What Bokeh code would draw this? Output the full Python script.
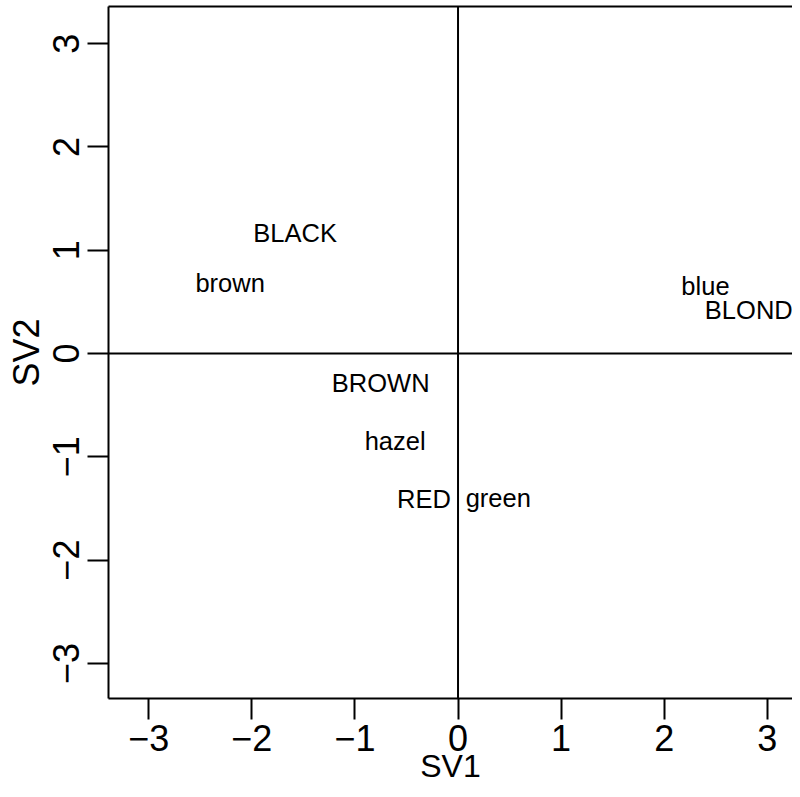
from bokeh.plotting import figure
from bokeh.models import ColumnDataSource, Span, LinearAxis, FixedTicker
from bokeh.core.properties import value
from bokeh.embed import file_html
from bokeh.resources import INLINE

# --- data ---
labels = ["BLACK", "brown", "blue", "BLOND", "BROWN", "hazel", "RED", "green"]
sv1 = [-1.58, -2.21, 2.40, 2.82, -0.75, -0.61, -0.33, 0.39]
sv2 = [1.17, 0.68, 0.65, 0.42, -0.29, -0.85, -1.41, -1.40]
x_ticks = [-3, -2, -1, 0, 1, 2, 3]
y_ticks = [-3, -2, -1, 0, 1, 2, 3]
x_title = "SV1"
y_title = "SV2"

FONT = "Liberation Sans"

p = figure(width=792, height=789, output_backend="svg", toolbar_location=None,
           x_range=(-3.39, 3.244), y_range=(-3.34, 3.36),
           min_border_left=108, min_border_right=0, min_border_top=6,
           min_border_bottom=91)
p.outline_line_color = None
p.grid.visible = False
p.background_fill_color = "white"
p.border_fill_color = "white"

for ax in (p.xaxis[0], p.yaxis[0]):
    ax.axis_line_width = 2
    ax.axis_line_color = "black"
    ax.major_tick_line_width = 2
    ax.major_tick_line_color = "black"
    ax.major_tick_out = 21
    ax.major_tick_in = 0
    ax.minor_tick_line_color = None
    ax.major_label_text_font = FONT
    ax.major_label_text_font_size = "36px"
    ax.major_label_text_color = "black"
    ax.axis_label_text_font = FONT
    ax.axis_label_text_font_size = "36px"
    ax.axis_label_text_font_style = "normal"
    ax.axis_label_text_color = "black"

p.xaxis[0].ticker = FixedTicker(ticks=x_ticks)
p.yaxis[0].ticker = FixedTicker(ticks=y_ticks)
p.xaxis[0].major_label_overrides = {t: str(t).replace("-", "\u2212") for t in x_ticks}
p.yaxis[0].major_label_overrides = {t: str(t).replace("-", "\u2212") for t in y_ticks}
p.xaxis[0].axis_label = x_title
p.xaxis[0].axis_label_text_font_size = "32px"
p.xaxis[0].major_label_standoff = 5
p.xaxis[0].axis_label_standoff = -6
p.yaxis[0].axis_label = y_title
p.yaxis[0].major_label_orientation = "vertical"
p.yaxis[0].major_label_standoff = 8
p.yaxis[0].axis_label_standoff = 4

# top border as a bare axis
top = LinearAxis(ticker=FixedTicker(ticks=[]), axis_line_width=2,
                 major_tick_line_color=None, minor_tick_line_color=None,
                 major_label_text_font_size="0px", major_label_standoff=0,
                 major_tick_out=0, major_tick_in=0)
p.add_layout(top, "above")

p.add_layout(Span(location=0, dimension="width", line_color="black", line_width=2))
p.add_layout(Span(location=0, dimension="height", line_color="black", line_width=2))

src = ColumnDataSource(dict(x=sv1, y=sv2, t=labels))
p.text(x="x", y="y", text="t", source=src, text_font=value(FONT),
       text_font_size="25.5px", text_align="center", text_baseline="middle",
       text_color="black")

open("out.html", "w").write(file_html(p, INLINE))
